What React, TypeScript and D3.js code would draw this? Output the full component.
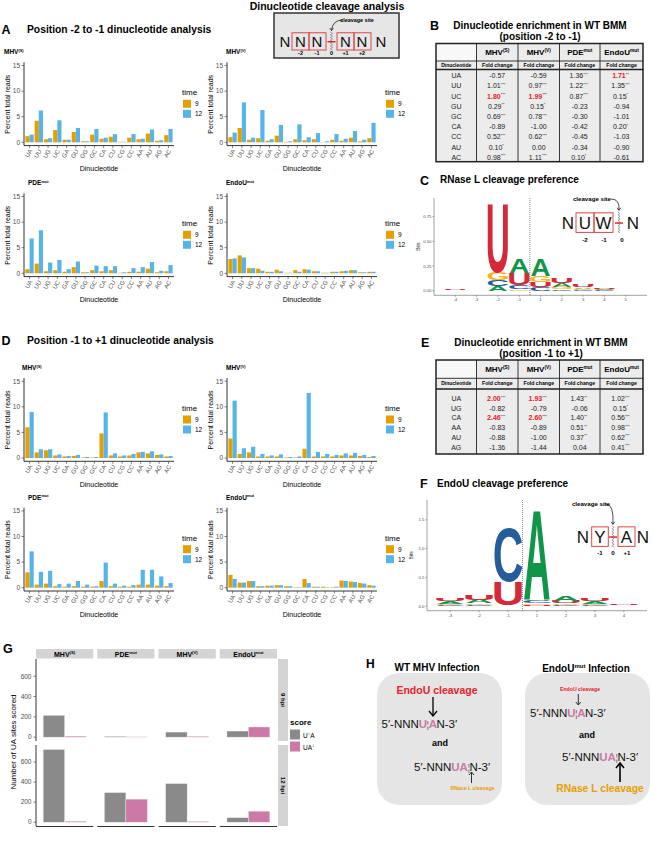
import React from "react";
import * as d3 from "d3";

const FONT = "'Liberation Sans', Arial, Helvetica, sans-serif";
const ORANGE = "#E69F00";
const BLUE = "#56B4E9";
const GREY_BAR = "#8a8a8a";
const PINK = "#CC79A7";
const RED = "#E8202A";
const LOGO_COL: Record<string, string> = { A: "#109648", C: "#255C99", G: "#F7B32B", U: "#D62839" };
const TXT = "#4d4d4d";

// ---------- Panel A / D bar data ----------
const DINUC = ["UA", "UU", "UG", "UC", "GA", "GU", "GG", "GC", "CA", "CU", "CG", "CC", "AA", "AU", "AG", "AC"];
const Y_TICKS = [0, 5, 10, 15];
const TIME_LEVELS = ["9", "12"];

const A_MHVS_9 = [1.2, 4.2, 0.6, 2.4, 0.5, 2.0, 0.2, 1.5, 0.7, 1.1, 0.1, 0.9, 0.6, 1.7, 0.3, 1.4];
const A_MHVS_12 = [1.5, 6.2, 0.8, 4.3, 0.5, 2.8, 0.2, 2.6, 0.9, 1.6, 0.1, 1.6, 0.7, 2.5, 0.4, 2.6];
const A_MHVV_9 = [1.0, 2.8, 0.5, 0.8, 0.3, 1.3, 0.1, 0.6, 0.4, 0.6, 0.05, 0.5, 0.3, 0.9, 0.2, 0.8];
const A_MHVV_12 = [1.9, 7.8, 0.9, 6.3, 0.6, 3.4, 0.2, 3.5, 1.0, 1.8, 0.2, 1.6, 0.7, 2.2, 0.5, 3.8];
const A_PDE_9 = [0.8, 1.9, 0.4, 0.6, 0.3, 1.2, 0.2, 0.6, 0.4, 0.6, 0.1, 0.3, 0.3, 0.9, 0.2, 0.4];
const A_PDE_12 = [6.8, 8.4, 2.1, 2.6, 0.8, 2.3, 0.2, 1.5, 1.4, 1.4, 0.2, 1.0, 1.2, 2.2, 0.5, 1.6];
const A_ENDO_9 = [2.8, 3.5, 1.0, 0.9, 0.3, 0.7, 0.1, 0.6, 0.8, 0.4, 0.1, 0.3, 0.4, 0.6, 0.2, 0.3];
const A_ENDO_12 = [2.9, 3.1, 1.0, 0.5, 0.3, 0.4, 0.1, 0.3, 0.7, 0.4, 0.1, 0.3, 0.5, 0.6, 0.2, 0.3];

const D_MHVS_9 = [6.0, 1.1, 1.5, 0.5, 0.3, 0.4, 0.1, 0.1, 4.8, 0.5, 0.3, 0.5, 1.1, 0.9, 0.6, 0.3];
const D_MHVS_12 = [9.0, 1.7, 1.7, 0.7, 0.4, 0.6, 0.2, 0.2, 8.9, 0.9, 0.5, 0.8, 1.2, 1.3, 0.7, 0.4];
const D_MHVV_9 = [3.8, 0.8, 1.1, 0.3, 0.3, 0.3, 0.1, 0.1, 1.8, 0.3, 0.3, 0.3, 0.5, 0.5, 0.4, 0.2];
const D_MHVV_12 = [11.2, 1.9, 2.2, 0.8, 0.5, 0.7, 0.2, 0.3, 12.7, 1.2, 0.8, 0.6, 0.9, 1.0, 0.6, 0.4];
const D_PDE_9 = [3.0, 0.6, 0.8, 0.3, 0.2, 0.3, 0.2, 0.2, 1.3, 0.3, 0.2, 0.2, 0.6, 0.6, 0.4, 0.3];
const D_PDE_12 = [7.1, 3.1, 3.3, 0.7, 0.8, 1.3, 0.6, 0.3, 4.9, 0.8, 0.4, 0.5, 3.5, 3.5, 2.2, 0.9];
const D_ENDO_9 = [2.5, 1.0, 1.3, 0.3, 0.4, 0.5, 0.3, 0.1, 1.7, 0.2, 0.2, 0.1, 1.4, 1.2, 0.9, 0.5];
const D_ENDO_12 = [1.7, 1.0, 1.3, 0.3, 0.4, 0.5, 0.3, 0.1, 0.9, 0.2, 0.1, 0.2, 1.3, 1.1, 0.8, 0.4];

// ---------- Tables ----------
const TABLE_COLS = [["MHV", "(S)"], ["MHV", "(V)"], ["PDE", "mut"], ["EndoU", "mut"]];
const B_ROWS = ["UA", "UU", "UC", "GU", "GC", "CA", "CC", "AU", "AC"];
const B_MHVS = ["-0.57", "1.01***", "1.80***", "0.29**", "0.69***", "-0.89", "0.52***", "0.10*", "0.98***"];
const B_MHVV = ["-0.59", "0.97***", "1.99***", "0.15*", "0.78***", "-1.00", "0.62***", "0.00", "1.11***"];
const B_PDE = ["1.36***", "1.22***", "0.87***", "-0.23", "-0.30", "-0.42", "-0.45", "-0.34", "0.10*"];
const B_ENDO = ["1.71**", "1.35***", "0.15*", "-0.94", "-1.01", "0.20*", "-1.03", "-0.90", "-0.61"];
const B_RED = ["2-0", "2-1", "0-3"];

const E_ROWS = ["UA", "UG", "CA", "AA", "AU", "AG"];
const E_MHVS = ["2.00***", "-0.82", "2.46***", "-0.83", "-0.88", "-1.36"];
const E_MHVV = ["1.93***", "-0.79", "2.60***", "-0.89", "-1.00", "-1.44"];
const E_PDE = ["1.43**", "-0.06", "1.40**", "0.51**", "0.37**", "0.04"];
const E_ENDO = ["1.02***", "0.15*", "0.56***", "0.98***", "0.62***", "0.41***"];
const E_RED = ["0-0", "0-1", "2-0", "2-1"];

// ---------- Logos ----------
const LETTERS = ["A", "C", "G", "U"];
const C_POS = ["-4", "-3", "-2", "-1", "1", "2", "3", "4", "5"];
const C_A = [0.004, 0, 0.05, 0.15, 0.17, 0.045, 0.015, 0.008, 0];
const C_C = [0.004, 0, 0.06, 0.045, 0.04, 0.015, 0.01, 0.006, 0];
const C_G = [0.004, 0, 0.08, 0.015, 0.06, 0.02, 0.012, 0.006, 0];
const C_U = [0.005, 0, 0.71, 0.12, 0.05, 0.05, 0.025, 0.01, 0];
const C_TICKS = [0, 0.25, 0.5, 0.75];

const F_POS = ["-3", "-2", "-1", "1", "2", "3", "4"];
const F_A = [0.05, 0.06, 0.005, 1.6, 0.1, 0.05, 0.008];
const F_C = [0.02, 0.02, 0.95, 0.05, 0.015, 0.015, 0.006];
const F_G = [0.02, 0.03, 0.005, 0.03, 0.03, 0.02, 0.006];
const F_U = [0.05, 0.1, 0.42, 0.02, 0.035, 0.05, 0.01];
const F_TICKS = [0, 0.5, 1, 1.5];

// ---------- Panel G ----------
const G_FACETS = [["MHV", "(S)"], ["PDE", "mut"], ["MHV", "(V)"], ["EndoU", "mut"]];
const G_ROWS = ["9 hpi", "12 hpi"];
const G_CUT_UA_9 = [215, 8, 50, 60];
const G_UA_CUT_9 = [10, 3, 8, 100];
const G_CUT_UA_12 = [725, 295, 385, 45];
const G_UA_CUT_12 = [10, 230, 8, 110];
const G_TICKS = [0, 200, 400, 600];

// ---------- helpers ----------
function SupText({ x, y, main, sup, fs, weight = "bold", anchor = "start", fill = "#000", after = "" }: any) {
  return (
    <text x={x} y={y} fontSize={fs} fontWeight={weight} textAnchor={anchor} fill={fill} fontFamily={FONT}>
      {main}
      <tspan fontSize={fs * 0.6} dy={-fs * 0.38}>{sup}</tspan>
      {after ? <tspan dy={fs * 0.38}>{after}</tspan> : null}
    </text>
  );
}

function zig(x: number, y1: number, y2: number) {
  const pts = d3.range(y1, y2 + 0.01, 1.4).map((yy, i) => [x + (i % 2 ? 1.1 : -1.1), yy] as [number, number]);
  return d3.line()(pts) || "";
}

function VArrow({ x, y1, y2, sw = 1, hw = 3, hl = 4, color = "#000" }: any) {
  const dir = y2 > y1 ? 1 : -1;
  return (
    <g>
      <line x1={x} x2={x} y1={y1} y2={y2 - dir * 0.5} stroke={color} strokeWidth={sw} />
      <path d={`M${x - hw},${y2 - dir * hl} L${x},${y2} L${x + hw},${y2 - dir * hl}`} fill="none" stroke={color} strokeWidth={sw} />
    </g>
  );
}

function BarChart({ x0, x1, zeroY, titleX, title, v9, v12 }: any) {
  const x = d3.scalePoint<string>().domain(DINUC).range([x0, x1]).padding(0.6);
  const half = x.step() * 0.45;
  const y = d3.scaleLinear().domain([0, 15]).range([zeroY, zeroY - 76.8]);
  const axisY = zeroY + 3.3;
  const topY = zeroY - 80;
  const lx = x0 + 158;
  return (
    <g fontFamily={FONT}>
      <SupText x={titleX} y={zeroY - 88} main={title[0]} sup={title[1]} fs={6.5} />
      {DINUC.map((c, i) => {
        const cx = x(c)!;
        return (
          <g key={c}>
            <rect x={cx - half} y={y(v9[i])} width={half} height={y(0) - y(v9[i])} fill={ORANGE} />
            <rect x={cx} y={y(v12[i])} width={half} height={y(0) - y(v12[i])} fill={BLUE} />
          </g>
        );
      })}
      <line x1={x0} x2={x0} y1={topY} y2={axisY} stroke="#000" strokeWidth={0.8} />
      <line x1={x0} x2={x1} y1={axisY} y2={axisY} stroke="#000" strokeWidth={0.8} />
      {Y_TICKS.map((t) => (
        <g key={t}>
          <line x1={x0 - 2.5} x2={x0} y1={y(t)} y2={y(t)} stroke="#333" strokeWidth={0.6} />
          <text x={x0 - 4} y={y(t) + 2.3} fontSize={6.5} textAnchor="end" fill={TXT}>{t}</text>
        </g>
      ))}
      {DINUC.map((c) => (
        <g key={c}>
          <line x1={x(c)} x2={x(c)} y1={axisY} y2={axisY + 2.5} stroke="#333" strokeWidth={0.6} />
          <text transform={`translate(${x(c)! + 1.5},${axisY + 4.5}) rotate(-60)`} fontSize={6} textAnchor="end" dominantBaseline="middle" fill={TXT}>{c}</text>
        </g>
      ))}
      <text x={(x0 + x1) / 2} y={zeroY + 29} fontSize={7} textAnchor="middle">Dinucleotide</text>
      <text transform={`translate(${x0 - 14},${zeroY - 38}) rotate(-90)`} fontSize={7} textAnchor="middle">Percent total reads</text>
      <text x={lx} y={zeroY - 47} fontSize={8}>time</text>
      {TIME_LEVELS.map((t, i) => (
        <g key={t}>
          <rect x={lx + 1} y={zeroY - 42.5 + i * 10} width={8} height={8} fill={i === 0 ? ORANGE : BLUE} />
          <text x={lx + 13} y={zeroY - 36 + i * 10} fontSize={6.5}>{t}</text>
        </g>
      ))}
    </g>
  );
}

const INK: Record<string, number> = { A: 72, C: 64, G: 68, U: 60 };
function Letter({ ch, cx, w, yb, h }: any) {
  if (h < 0.25) return null;
  return (
    <text transform={`translate(${cx},${yb}) scale(${w / INK[ch]},${h / 72})`} textAnchor="middle" fontSize={100} fontWeight="bold" fontFamily={FONT} fill={LOGO_COL[ch]}>
      {ch}
    </text>
  );
}

function Logo({ positions, heights, xr, pad, zeroY, ppb, ticks, fmt, yTop, axisY, labX }: any) {
  const x = d3.scalePoint<string>().domain(positions).range(xr).padding(pad);
  const y = d3.scaleLinear().domain([0, 1]).range([zeroY, zeroY - ppb]);
  const w = x.step() * 0.94;
  const divX = (x("-1")! + x("1")!) / 2;
  const f = d3.format(fmt);
  return (
    <g fontFamily={FONT}>
      {positions.map((p: string, i: number) => {
        const stack = LETTERS.map((L) => ({ L, h: heights[L][i] })).sort((a, b) => a.h - b.h);
        let cum = 0;
        return (
          <g key={p}>
            {stack.map((s) => {
              const b = cum;
              cum += s.h;
              return <Letter key={s.L} ch={s.L} cx={x(p)} w={w} yb={y(b)} h={y(0) - y(s.h)} />;
            })}
          </g>
        );
      })}
      <line x1={divX} x2={divX} y1={yTop} y2={axisY} stroke="#555" strokeWidth={0.7} strokeDasharray="1,1" />
      <line x1={xr[0]} x2={xr[0]} y1={yTop} y2={axisY} stroke="#444" strokeWidth={0.5} />
      <line x1={xr[0]} x2={xr[1]} y1={axisY} y2={axisY} stroke="#444" strokeWidth={0.5} />
      {ticks.map((t: number) => (
        <g key={t}>
          <line x1={xr[0] - 1.5} x2={xr[0]} y1={y(t)} y2={y(t)} stroke="#444" strokeWidth={0.5} />
          <text x={xr[0] - 2.5} y={y(t) + 1.5} fontSize={4.3} textAnchor="end" fill={TXT}>{f(t)}</text>
        </g>
      ))}
      {positions.map((p: string) => (
        <g key={p}>
          <line x1={x(p)} x2={x(p)} y1={axisY} y2={axisY + 1.5} stroke="#444" strokeWidth={0.5} />
          <text x={x(p)} y={axisY + 6} fontSize={4.3} textAnchor="middle" fill={TXT}>{p}</text>
        </g>
      ))}
      <text transform={`translate(${labX},${(yTop + axisY) / 2}) rotate(-90)`} fontSize={5} textAnchor="middle" fill="#222">Bits</text>
    </g>
  );
}

const COLX = [436, 476.5, 518, 559.5, 600, 643];
function Table({ top, hb, sb, bottom, rowY, rows, cols, red }: any) {
  const fs = 7;
  return (
    <g fontFamily={FONT}>
      <rect x={COLX[0]} y={top} width={COLX[5] - COLX[0]} height={bottom - top} fill="#ececec" />
      <rect x={COLX[0]} y={top} width={COLX[1] - COLX[0]} height={hb - top} fill="#f8f8f8" />
      {COLX.slice(1, 5).map((cx) => (
        <line key={cx} x1={cx} x2={cx} y1={top} y2={bottom} stroke="#222" strokeWidth={0.9} />
      ))}
      <line x1={COLX[0]} x2={COLX[5]} y1={hb} y2={hb} stroke="#222" strokeWidth={0.9} />
      <line x1={COLX[0]} x2={COLX[5]} y1={sb} y2={sb} stroke="#222" strokeWidth={1.3} />
      <rect x={COLX[0]} y={top} width={COLX[5] - COLX[0]} height={bottom - top} fill="none" stroke="#222" strokeWidth={1.5} />
      {TABLE_COLS.map((c, j) => (
        <SupText key={j} x={(COLX[j + 1] + COLX[j + 2]) / 2} y={(top + hb) / 2 + 3} main={c[0]} sup={c[1]} fs={8} anchor="middle" />
      ))}
      <text x={(COLX[0] + COLX[1]) / 2} y={(hb + sb) / 2 + 1.8} fontSize={5} fontWeight="bold" textAnchor="middle">Dinucleotide</text>
      {TABLE_COLS.map((c, j) => (
        <text key={j} x={(COLX[j + 1] + COLX[j + 2]) / 2} y={(hb + sb) / 2 + 1.8} fontSize={5.2} fontWeight="bold" textAnchor="middle">Fold change</text>
      ))}
      {rows.map((r: string, i: number) => (
        <g key={r}>
          <text x={(COLX[0] + COLX[1]) / 2} y={rowY(i) + 2.5} fontSize={fs} textAnchor="middle" fill="#222">{r}</text>
          {cols.map((vals: string[], j: number) => {
            const s = vals[i];
            const k = s.indexOf("*");
            const num = k < 0 ? s : s.slice(0, k);
            const st = k < 0 ? "" : s.slice(k);
            const isRed = red.includes(`${i}-${j}`);
            return (
              <text key={j} x={(COLX[j + 1] + COLX[j + 2]) / 2 - (st ? 1 : 0)} y={rowY(i) + 2.5} fontSize={fs} textAnchor="middle" fill={isRed ? RED : "#222"} fontWeight={isRed ? "bold" : "normal"}>
                {num}
                {st ? <tspan fontSize={4} dy={-2.5} fill="#222" fontWeight="normal">{st}</tspan> : null}
              </text>
            );
          })}
        </g>
      ))}
    </g>
  );
}

function Seq({ x, y, fs, cut }: any) {
  const sep = <tspan fill="#666" fontWeight="normal" fontSize={fs * 0.85} dx={-0.5}>¦</tspan>;
  return (
    <text x={x} y={y} fontSize={fs} fontFamily={FONT} fill="#111">
      5′-NNN
      <tspan fill={PINK} fontWeight="bold">U</tspan>
      {cut === 1 ? sep : null}
      <tspan fill={PINK} fontWeight="bold" dx={cut === 1 ? -0.5 : 0}>A</tspan>
      {cut === 2 ? sep : null}
      <tspan dx={-0.5}>N-3′</tspan>
    </text>
  );
}

function Inset({ items, boxes, cutX, y, fs, labels, labY, siteX, siteY, arrowFrom }: any) {
  return (
    <g fontFamily={FONT}>
      {boxes.map((b: number[], i: number) => (
        <rect key={i} x={b[0]} y={y - fs * 0.95} width={b[1] - b[0]} height={fs * 1.15} fill="none" stroke="#D94848" strokeWidth={1} />
      ))}
      {items.map((it: any, i: number) => (
        <text key={i} x={it[0]} y={y} fontSize={fs} textAnchor="middle" fill="#111">{it[1]}</text>
      ))}
      <path d={zig(cutX, y - fs * 1.0, y + fs * 0.3)} fill="none" stroke="#555" strokeWidth={0.5} />
      <line x1={cutX - 4} x2={cutX + 4} y1={y - fs * 0.35} y2={y - fs * 0.35} stroke="#D62020" strokeWidth={1.4} />
      {labels.map((l: any, i: number) => (
        <text key={i} x={l[0]} y={labY} fontSize={fs * 0.36} fontWeight="bold" textAnchor="middle">{l[1]}</text>
      ))}
      <text x={siteX} y={siteY} fontSize={fs * 0.36} fontWeight="bold" textAnchor="middle">cleavage site</text>
      <path d={`M${arrowFrom[0]},${arrowFrom[1]} Q${cutX + 1},${arrowFrom[1]} ${cutX},${y - fs * 1.1}`} fill="none" stroke="#000" strokeWidth={0.7} />
      <path d={`M${cutX - 1.8},${y - fs * 1.1 - 2.5} L${cutX},${y - fs * 1.1} L${cutX + 1.8},${y - fs * 1.1 - 2.5}`} fill="none" stroke="#000" strokeWidth={0.7} />
    </g>
  );
}

function PanelG() {
  const fx = d3.scaleBand<number>().domain([0, 1, 2, 3]).range([36, 277]).paddingInner(0.066);
  const bw = fx.bandwidth();
  const rowsY = [
    { top: 659, bot: 741, a: G_CUT_UA_9, b: G_UA_CUT_9 },
    { top: 745, bot: 826, a: G_CUT_UA_12, b: G_UA_CUT_12 },
  ];
  return (
    <g fontFamily={FONT}>
      {G_FACETS.map((f, i) => (
        <g key={i}>
          <rect x={fx(i)} y={649} width={bw} height={9.5} fill="#d4d4d4" />
          <SupText x={fx(i)! + bw / 2} y={656.5} main={f[0]} sup={f[1]} fs={7} anchor="middle" />
          <line x1={fx(i)} x2={fx(i)! + bw} y1={826.5} y2={826.5} stroke="#000" strokeWidth={0.8} />
        </g>
      ))}
      {rowsY.map((r, ri) => {
        const y = d3.scaleLinear().domain([-38, 770]).range([r.bot, r.top]);
        return (
          <g key={ri}>
            <rect x={278} y={r.top} width={10} height={r.bot - r.top} fill="#d4d4d4" />
            <text transform={`translate(${281},${(r.top + r.bot) / 2}) rotate(90)`} fontSize={6} fontWeight="bold" textAnchor="middle">{G_ROWS[ri]}</text>
            <line x1={36} x2={36} y1={r.top} y2={r.bot} stroke="#000" strokeWidth={0.8} />
            {G_TICKS.map((t) => (
              <g key={t}>
                <line x1={33.5} x2={36} y1={y(t)} y2={y(t)} stroke="#333" strokeWidth={0.6} />
                <text x={31.5} y={y(t) + 2.3} fontSize={6.5} textAnchor="end" fill={TXT}>{t}</text>
              </g>
            ))}
            {G_FACETS.map((f, i) => {
              const cx = fx(i)! + bw / 2;
              const w = bw * 0.375;
              return (
                <g key={i}>
                  <rect x={cx - w} y={y(r.a[i])} width={w} height={y(0) - y(r.a[i])} fill={GREY_BAR} stroke="#eee" strokeWidth={0.4} />
                  <rect x={cx} y={y(r.b[i])} width={w} height={y(0) - y(r.b[i])} fill={PINK} stroke="#eee" strokeWidth={0.4} />
                </g>
              );
            })}
          </g>
        );
      })}
      <text transform="translate(16,742) rotate(-90)" fontSize={8} textAnchor="middle">Number of UA sites scored</text>
      <text x={290} y={725} fontSize={8} fontWeight="bold">score</text>
      <rect x={290} y={729.5} width={10} height={10} fill={GREY_BAR} />
      <rect x={290} y={741.5} width={10} height={10} fill={PINK} />
      <text x={303} y={737.5} fontSize={6.5}>U<tspan fontSize={5} dy={-2.5} fontWeight="bold">↓</tspan><tspan dy={2.5}>A</tspan></text>
      <text x={303} y={749.5} fontSize={6.5}>UA<tspan fontSize={5} dy={-2.5} fontWeight="bold">↓</tspan></text>
    </g>
  );
}

function PanelH() {
  return (
    <g fontFamily={FONT}>
      <text x={366} y={668} fontSize={12} fontWeight="bold">H</text>
      <text x={437} y={671} fontSize={10} fontWeight="bold" textAnchor="middle">WT MHV Infection</text>
      <SupText x={586} y={672} main="EndoU" sup="mut" after=" Infection" fs={10} anchor="middle" />
      <rect x={377} y={673} width={125} height={132} rx={22} fill="#e5e5e5" />
      <rect x={525} y={673} width={125} height={132} rx={22} fill="#e5e5e5" />
      <text x={437} y={693.5} fontSize={10.5} fontWeight="bold" textAnchor="middle" fill={RED}>EndoU cleavage</text>
      <VArrow x={433} y1={697} y2={716} sw={1.3} hw={4} hl={5} />
      <Seq x={381.5} y={727.5} fs={11.5} cut={1} />
      <text x={440} y={746} fontSize={9} fontWeight="bold" textAnchor="middle">and</text>
      <Seq x={414} y={771} fs={11.5} cut={2} />
      <VArrow x={471.5} y1={783} y2={772} sw={0.8} hw={2.5} hl={3} />
      <text x={472.5} y={790} fontSize={5.2} fontWeight="bold" textAnchor="middle" fill={ORANGE}>RNase L cleavage</text>

      <text x={580} y={691} fontSize={5.2} fontWeight="bold" textAnchor="middle" fill={RED}>EndoU cleavage</text>
      <VArrow x={578.3} y1={694} y2={705} sw={0.8} hw={2.5} hl={3} />
      <Seq x={530} y={717} fs={11.5} cut={1} />
      <text x={587} y={737.5} fontSize={9} fontWeight="bold" textAnchor="middle">and</text>
      <Seq x={562} y={761} fs={11.5} cut={2} />
      <VArrow x={620} y1={782} y2={763} sw={1.6} hw={4} hl={5} />
      <text x={600} y={792} fontSize={10.3} fontWeight="bold" textAnchor="middle" fill={ORANGE}>RNase L cleavage</text>
    </g>
  );
}

export default function App() {
  return (
    <svg width={651} height={851} viewBox="0 0 651 851" style={{ position: "absolute", left: 0, top: 0, background: "#fff" }} fontFamily={FONT}>
      <rect x={0} y={0} width={651} height={851} fill="#fff" />
      {/* Panel A header */}
      <text x={1.5} y={33.5} fontSize={12.5} fontWeight="bold">A</text>
      <text x={27} y={32.5} fontSize={10.3} fontWeight="bold">Position -2 to -1 dinucleotide analysis</text>
      <text x={327} y={9.5} fontSize={10.5} fontWeight="bold" textAnchor="middle">Dinucleotide cleavage analysis</text>
      <rect x={274} y={13} width={125} height={45} fill="#e6e6e6" stroke="#333" strokeWidth={1.5} />
      <Inset
        items={[[285, "N"], [300.5, "N"], [317, "N"], [345.5, "N"], [362, "N"], [381, "N"]]}
        boxes={[[292, 309], [309, 326], [337, 354], [354, 371]]}
        cutX={331.5} y={47} fs={15}
        labels={[[300.5, "-2"], [317, "-1"], [331.5, "0"], [345.5, "+1"], [362, "+2"]]}
        labY={55} siteX={357} siteY={22} arrowFrom={[343, 20]}
      />

      <BarChart x0={24} x1={174} zeroY={142.3} titleX={4} title={["MHV", "(S)"]} v9={A_MHVS_9} v12={A_MHVS_12} />
      <BarChart x0={227} x1={377} zeroY={142.3} titleX={226} title={["MHV", "(V)"]} v9={A_MHVV_9} v12={A_MHVV_12} />
      <BarChart x0={24} x1={174} zeroY={273.3} titleX={28} title={["PDE", "mut"]} v9={A_PDE_9} v12={A_PDE_12} />
      <BarChart x0={227} x1={377} zeroY={273.3} titleX={226} title={["EndoU", "mut"]} v9={A_ENDO_9} v12={A_ENDO_12} />

      {/* Panel B */}
      <text x={430} y={30} fontSize={12.5} fontWeight="bold">B</text>
      <text x={540} y={29} fontSize={10} fontWeight="bold" textAnchor="middle">Dinucleotide enrichment in WT BMM</text>
      <text x={540} y={40} fontSize={10} fontWeight="bold" textAnchor="middle">(position -2 to -1)</text>
      <Table top={43.5} hb={61} sb={69.5} bottom={161.7} rowY={(i: number) => 75.7 + i * 10.2} rows={B_ROWS} cols={[B_MHVS, B_MHVV, B_PDE, B_ENDO]} red={B_RED} />

      {/* Panel C */}
      <text x={420} y={185} fontSize={12.5} fontWeight="bold">C</text>
      <text x={440} y={183} fontSize={10} fontWeight="bold">RNase L cleavage preference</text>
      <Logo positions={C_POS} heights={{ A: C_A, C: C_C, G: C_G, U: C_U }} xr={[434, 647]} pad={1} zeroY={290.7} ppb={98.8} ticks={C_TICKS} fmt=".2f" yTop={198} axisY={295.3} labX={420} />
      <Inset
        items={[[568, "N"], [585, "U"], [603.5, "W"], [633, "N"]]}
        boxes={[[576, 594], [594, 613]]}
        cutX={619} y={229} fs={17}
        labels={[[585, "-2"], [604, "-1"], [622, "0"]]}
        labY={241.5} siteX={592} siteY={201} arrowFrom={[611, 199]}
      />

      {/* Panel D header */}
      <text x={1.5} y={344.5} fontSize={12.5} fontWeight="bold">D</text>
      <text x={27} y={343.5} fontSize={10.3} fontWeight="bold">Position -1 to +1 dinucleotide analysis</text>
      <BarChart x0={24} x1={174} zeroY={458} titleX={22} title={["MHV", "(S)"]} v9={D_MHVS_9} v12={D_MHVS_12} />
      <BarChart x0={227} x1={377} zeroY={458} titleX={226} title={["MHV", "(V)"]} v9={D_MHVV_9} v12={D_MHVV_12} />
      <BarChart x0={24} x1={174} zeroY={587.7} titleX={28} title={["PDE", "mut"]} v9={D_PDE_9} v12={D_PDE_12} />
      <BarChart x0={227} x1={377} zeroY={587.7} titleX={226} title={["EndoU", "mut"]} v9={D_ENDO_9} v12={D_ENDO_12} />

      {/* Panel E */}
      <text x={421} y={347} fontSize={12.5} fontWeight="bold">E</text>
      <text x={541} y={346} fontSize={10} fontWeight="bold" textAnchor="middle">Dinucleotide enrichment in WT BMM</text>
      <text x={541} y={356.5} fontSize={10} fontWeight="bold" textAnchor="middle">(position -1 to +1)</text>
      <Table top={360} hb={378.3} sb={389} bottom={454} rowY={(i: number) => 398.5 + i * 9.7} rows={E_ROWS} cols={[E_MHVS, E_MHVV, E_PDE, E_ENDO]} red={E_RED} />

      {/* Panel F */}
      <text x={420} y={487.5} fontSize={12.5} fontWeight="bold">F</text>
      <text x={437} y={487} fontSize={10} fontWeight="bold">EndoU cleavage preference</text>
      <Logo positions={F_POS} heights={{ A: F_A, C: F_C, G: F_G, U: F_U }} xr={[427, 647]} pad={0.8} zeroY={606} ppb={57.4} ticks={F_TICKS} fmt=".1f" yTop={500} axisY={610.7} labX={413} />
      <Inset
        items={[[583, "N"], [600, "Y"], [626.5, "A"], [643, "N"]]}
        boxes={[[591.7, 608.3], [618, 635]]}
        cutX={613} y={543} fs={17}
        labels={[[600, "-1"], [613, "0"], [627, "+1"]]}
        labY={555} siteX={591} siteY={506} arrowFrom={[606, 504]}
      />

      {/* Panel G */}
      <text x={3} y={653} fontSize={12.5} fontWeight="bold">G</text>
      <PanelG />
      <PanelH />
    </svg>
  );
}
